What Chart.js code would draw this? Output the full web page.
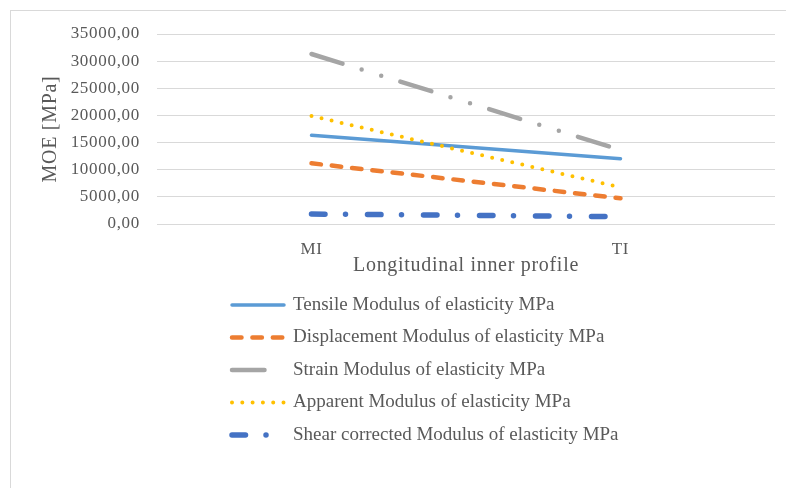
<!DOCTYPE html>
<html>
<head>
<meta charset="utf-8">
<script src="https://cdn.jsdelivr.net/npm/chart.js@4/dist/chart.umd.min.js"></script>
<style>
  html, body { margin: 0; padding: 0; background: #fff; }
  #wrap { width: 786px; height: 488px; position: relative; }
</style>
</head>
<body>
<div id="wrap"><canvas id="chart"></canvas></div>
<script>
// profile positions along the inner longitudinal profile
const profiles = ['MI', 'TI'];

// modulus of elasticity per method, MPa
const tensile = [16340, 12030];
const displacement = [11180, 4730];
const strain = [31320, 13630];
const apparent = [19900, 6760];
const shearCorrected = [1840, 1350];

const seriesLabels = [
    'Tensile Modulus of elasticity MPa',
    'Displacement Modulus of elasticity MPa',
    'Strain Modulus of elasticity MPa',
    'Apparent Modulus of elasticity MPa',
    'Shear corrected Modulus of elasticity MPa'
];

const yMin = 0, yMax = 35000, yStep = 5000;

const textColor = '#595959';
const gridColor = '#d9d9d9';
const serif = '"Liberation Serif", "Times New Roman", serif';

const styles = [
    { color: '#5B9BD5', width: 3.5, dash: [] },
    { color: '#ED7D31', width: 4.5, dash: [9.5, 10.9] },
    { color: '#A5A5A5', width: 4.5, dash: [32.5, 20, 0, 20.5, 0, 20] },
    { color: '#FFC000', width: 4, dash: [0, 10.3] },
    { color: '#4472C4', width: 5.5, dash: [13.5, 20.5, 0, 22] }
];

const values = [tensile, displacement, strain, apparent, shearCorrected];

const datasets = values.map((data, i) => ({
    label: seriesLabels[i],
    data: data,
    borderColor: styles[i].color,
    backgroundColor: styles[i].color,
    borderWidth: styles[i].width,
    borderDash: styles[i].dash,
    borderCapStyle: 'round',
    pointRadius: 0,
    tension: 0,
    fill: false,
    // later series sit on top of earlier ones
    order: values.length - i
}));

// light frame round the whole chart, plus a touch of letter spacing for axis text
const frame = {
    id: 'frame',
    beforeDraw(chart) {
        const ctx = chart.ctx;
        ctx.save();
        ctx.strokeStyle = gridColor;
        ctx.lineWidth = 1;
        ctx.strokeRect(10.5, 10.5, 820, 520);
        ctx.restore();
        ctx.letterSpacing = '0.7px';
    }
};

// stacked legend under the plot, one series per row
const stackedLegend = {
    id: 'stackedLegend',
    afterDraw(chart) {
        const ctx = chart.ctx;
        chart.data.datasets.forEach((ds, i) => {
            const y = 305 + i * 32.5;
            ctx.save();
            ctx.letterSpacing = '0px';
            ctx.strokeStyle = ds.borderColor;
            ctx.lineWidth = ds.borderWidth;
            ctx.lineCap = 'round';
            ctx.setLineDash(ds.borderDash || []);
            ctx.beginPath();
            ctx.moveTo(232, y);
            ctx.lineTo(284, y);
            ctx.stroke();
            ctx.setLineDash([]);
            ctx.fillStyle = textColor;
            ctx.font = '19px ' + serif;
            ctx.textBaseline = 'middle';
            ctx.textAlign = 'left';
            ctx.fillText(ds.label, 293, y);
            ctx.restore();
        });
    }
};

const ctx = document.getElementById('chart').getContext('2d');
const chart = new Chart(ctx, {
    type: 'line',
    data: { labels: profiles, datasets: datasets },
    plugins: [frame, stackedLegend],
    options: {
        responsive: true,
        maintainAspectRatio: false,
        animation: false,
        events: [],
        layout: { padding: { left: 39, top: 34, right: 11, bottom: 210 } },
        plugins: {
            legend: { display: false },
            tooltip: { enabled: false }
        },
        scales: {
            x: {
                offset: true,
                grid: { display: false, drawTicks: false },
                border: { display: false },
                ticks: {
                    color: textColor,
                    font: { family: serif, size: 17 },
                    padding: 15,
                    maxRotation: 0
                },
                title: {
                    display: true,
                    text: 'Longitudinal inner profile',
                    color: textColor,
                    font: { family: serif, size: 20 },
                    padding: 0
                },
                afterFit(scale) { scale.height = 54; }
            },
            y: {
                min: yMin,
                max: yMax,
                grid: { color: gridColor, lineWidth: 1, drawTicks: false },
                border: { display: false },
                ticks: {
                    stepSize: yStep,
                    color: textColor,
                    font: { family: serif, size: 17 },
                    padding: 17,
                    callback: v => v.toFixed(2).replace('.', ',')
                },
                title: {
                    display: true,
                    text: 'MOE [MPa]',
                    color: textColor,
                    font: { family: serif, size: 20 },
                    padding: 0
                },
                afterFit(scale) { scale.width = 118; }
            }
        }
    }
});
</script>
</body>
</html>
